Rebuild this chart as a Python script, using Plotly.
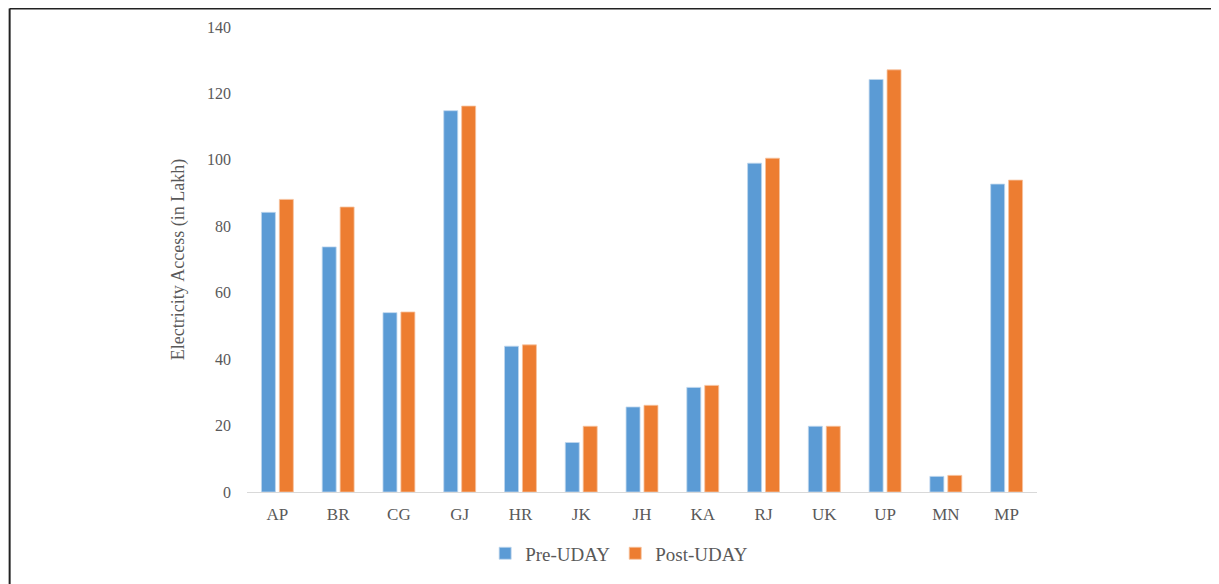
import plotly.graph_objects as go

states = ["AP", "BR", "CG", "GJ", "HR", "JK", "JH", "KA", "RJ", "UK", "UP", "MN", "MP"]
pre_uday = [84.2, 73.8, 54.0, 114.8, 43.9, 14.9, 25.6, 31.5, 99.0, 19.8, 124.2, 4.7, 92.7]
post_uday = [88.1, 85.8, 54.2, 116.2, 44.3, 19.8, 26.1, 32.1, 100.5, 19.8, 127.1, 5.0, 93.9]
y_ticks = [0, 20, 40, 60, 80, 100, 120, 140]

FONT = "Liberation Serif"
GREY = "#595959"

fig = go.Figure()
fig.add_trace(go.Bar(name="Pre-UDAY", x=states, y=pre_uday,
                     marker=dict(color="#5B9BD5", line=dict(color="#BFD7EE", width=0.8))))
fig.add_trace(go.Bar(name="Post-UDAY", x=states, y=post_uday,
                     marker=dict(color="#ED7D31", line=dict(color="#F6C3A0", width=0.8))))

# page body has an 8px margin, so figure coordinates = screen - 8
OFF = 8
W, H = 1211, 576
L = 246.6 - OFF
T = 27.4 - OFF
R = W - (1037.4 - OFF)
B = H - (491.7 - OFF)
pw, ph = W - L - R, H - T - B

def px_x(sx):
    return (sx - OFF - L) / pw

def px_y(sy):
    return (H - B - (sy - OFF)) / ph

fig.update_layout(
    width=W, height=H,
    margin=dict(l=L, r=R, t=T, b=B, autoexpand=False),
    paper_bgcolor="white", plot_bgcolor="white",
    barmode="group", bargap=0.41, bargroupgap=0.22,
    font=dict(family=FONT, color=GREY, size=16),
    showlegend=True,
    legend=dict(orientation="h", x=px_x(485), xanchor="left", y=px_y(553), yanchor="middle",
                font=dict(family=FONT, size=19, color=GREY), itemwidth=30,
                traceorder="normal"),
    xaxis=dict(showgrid=False, showline=True, linecolor="#D9D9D9", linewidth=1.2,
               ticks="", tickfont=dict(size=17, color=GREY), ticklabelstandoff=6),
    yaxis=dict(range=[0, 140], tickvals=y_ticks, showgrid=False, showline=False, zeroline=False,
               ticks="", tickfont=dict(size=16, color=GREY), ticklabelstandoff=15,
               title=dict(text="Electricity Access (in Lakh)", font=dict(size=18, color=GREY), standoff=17)),
    shapes=[
        dict(type="line", xref="paper", yref="paper", x0=px_x(OFF + 1), x1=px_x(1219), y0=px_y(OFF + 1), y1=px_y(OFF + 1),
             line=dict(color="#222222", width=2)),
        dict(type="line", xref="paper", yref="paper", x0=px_x(OFF + 1), x1=px_x(OFF + 1), y0=px_y(OFF + 1), y1=px_y(584),
             line=dict(color="#222222", width=2)),
    ],
)

fig.write_html("out.html")
